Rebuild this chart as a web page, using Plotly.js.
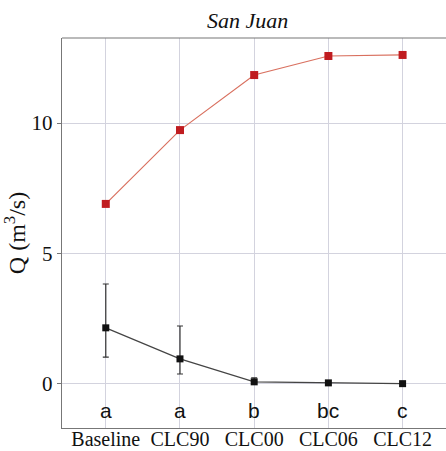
<!DOCTYPE html>
<html><head><meta charset="utf-8">
<script src="https://cdn.plot.ly/plotly-3.0.1.min.js"></script>
<style>html,body{margin:0;padding:0;background:#fff}</style>
</head><body>
<div id="plot" style="width:446px;height:451px"></div>
<script>
const categories = ["Baseline", "CLC90", "CLC00", "CLC06", "CLC12"];
const redValues = [6.90, 9.73, 11.84, 12.57, 12.61];
const blackValues = [2.15, 0.96, 0.08, 0.04, 0.01];
const blackErrPlus = [1.68, 1.26, 0.15, 0.0, 0.0];
const blackErrMinus = [1.12, 0.58, 0.0, 0.0, 0.0];
const groupLetters = ["a", "a", "b", "bc", "c"];
const letterY = -1.03;

const xIdx = categories.map((c, i) => i);

const traces = [
  {
    x: xIdx, y: redValues, type: "scatter", mode: "lines",
    line: {color: "#d9705f", width: 1.2}, hoverinfo: "skip", showlegend: false
  },
  {
    x: xIdx, y: redValues, type: "scatter", mode: "markers",
    marker: {symbol: "square", size: 8, color: "#c01c20"}, showlegend: false
  },
  {
    x: xIdx, y: blackValues, type: "scatter", mode: "lines+markers",
    line: {color: "#444", width: 1.2},
    marker: {symbol: "square", size: 7, color: "#111"},
    error_y: {type: "data", symmetric: false, array: blackErrPlus, arrayminus: blackErrMinus,
              color: "#333", thickness: 1.2, width: 3},
    showlegend: false
  }
];

const annotations = groupLetters.map((t, i) => ({
  x: i, y: letterY, xref: "x", yref: "y", text: t, showarrow: false,
  font: {family: "Liberation Sans, Arial, sans-serif", size: 21, color: "#111"}
}));

const layout = {
  width: 446, height: 451,
  margin: {l: 62, r: 0, t: 38, b: 23},
  paper_bgcolor: "#fff", plot_bgcolor: "#fff",
  title: {text: "<i>San Juan</i>", x: 0.555, xanchor: "center", y: 0.955, yanchor: "middle",
          font: {family: "Liberation Serif, Times New Roman, serif", size: 22, color: "#111"}},
  xaxis: {
    range: [-0.59, 4.585], tickmode: "array", tickvals: xIdx, ticktext: categories,
    showgrid: true, gridcolor: "#d3d3de", gridwidth: 1, zeroline: false,
    showline: true, linecolor: "#777", linewidth: 1.2, mirror: false,
    ticks: "", ticklabelstandoff: -7,
    tickfont: {family: "Liberation Serif, Times New Roman, serif", size: 20, color: "#111"}
  },
  yaxis: {
    range: [-1.69, 13.26], tickvals: [0, 5, 10], ticktext: ["0", "5", "10"],
    showgrid: true, gridcolor: "#d3d3de", gridwidth: 1, zeroline: false,
    showline: true, linecolor: "#777", linewidth: 1.2,
    ticks: "outside", ticklen: 4, tickcolor: "#777",
    tickfont: {family: "Liberation Serif, Times New Roman, serif", size: 21, color: "#111"},
    title: {text: "Q (m<sup>3</sup>/s)", standoff: 6,
            font: {family: "Liberation Serif, Times New Roman, serif", size: 24, color: "#111"}}
  },
  shapes: [
    {type: "line", xref: "paper", yref: "paper", x0: 0, x1: 1, y0: 1, y1: 1,
     line: {color: "#777", width: 1.2}}
  ],
  annotations: annotations
};

Plotly.newPlot("plot", traces, layout, {displayModeBar: false, staticPlot: true});
</script>
</body></html>
